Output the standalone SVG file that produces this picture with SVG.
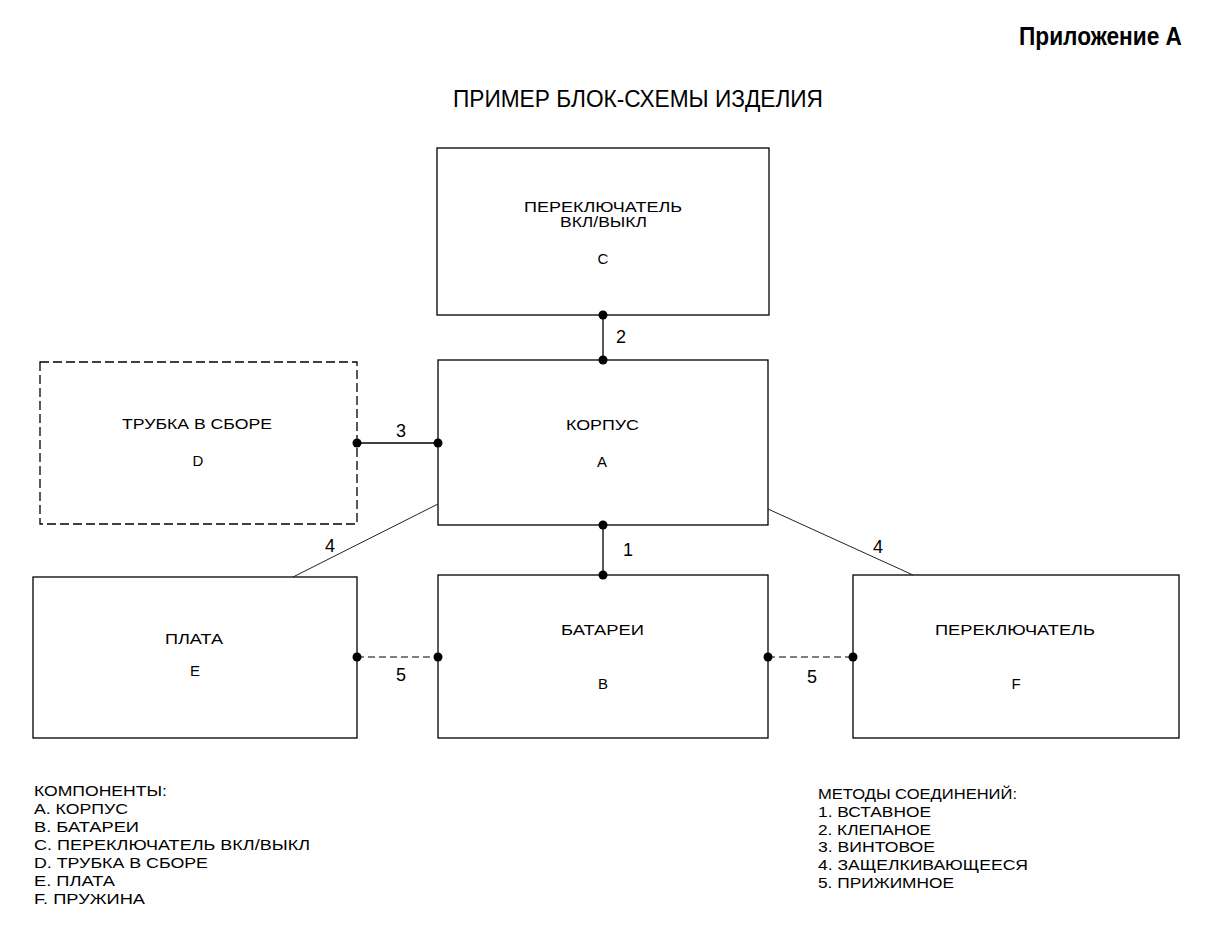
<svg xmlns="http://www.w3.org/2000/svg" width="1213" height="926" viewBox="0 0 1213 926">
<style>
.box{fill:#fff;stroke:#000;stroke-width:1.3}
.dash{stroke-dasharray:9 4}
.t{font-family:"Liberation Sans",Arial,sans-serif;font-size:14px;fill:#000}
.c{text-anchor:middle;font-size:15px}
.n{font-family:"Liberation Sans",Arial,sans-serif;font-size:18px;fill:#000;text-anchor:middle}
.ln{stroke:#000;stroke-width:1.3;fill:none}
.thin{stroke:#222;stroke-width:1;fill:none}
.dl{stroke:#000;stroke-width:1.2;stroke-dasharray:7 4;fill:none}
.dot{fill:#000}
</style>
<rect width="1213" height="926" fill="#fff"/>
<text x="1182" y="45" font-family="'Liberation Sans',Arial,sans-serif" font-size="25" font-weight="bold" text-anchor="end" textLength="163" lengthAdjust="spacingAndGlyphs">Приложение А</text>
<text x="453" y="107" font-family="'Liberation Sans',Arial,sans-serif" font-size="23" textLength="370" lengthAdjust="spacingAndGlyphs">ПРИМЕР БЛОК-СХЕМЫ ИЗДЕЛИЯ</text>

<g id="node-C">
<rect class="box" x="437" y="148" width="332" height="167"/>
<text class="t" x="524" y="212" textLength="158" lengthAdjust="spacingAndGlyphs">ПЕРЕКЛЮЧАТЕЛЬ</text>
<text class="t" x="560" y="227" textLength="87" lengthAdjust="spacingAndGlyphs">ВКЛ/ВЫКЛ</text>
<text class="t c" x="603" y="264">С</text>
</g>
<g id="node-A">
<rect class="box" x="438" y="360" width="330" height="165"/>
<text class="t" x="566" y="430" textLength="73" lengthAdjust="spacingAndGlyphs">КОРПУС</text>
<text class="t c" x="602" y="467">А</text>
</g>
<g id="node-D">
<rect class="box dash" x="40" y="362" width="317" height="162"/>
<text class="t" x="122" y="429" textLength="150" lengthAdjust="spacingAndGlyphs">ТРУБКА В СБОРЕ</text>
<text class="t c" x="198" y="466">D</text>
</g>
<g id="node-E">
<rect class="box" x="33" y="577" width="324" height="161"/>
<text class="t" x="165" y="644" textLength="58" lengthAdjust="spacingAndGlyphs">ПЛАТА</text>
<text class="t c" x="195" y="676">E</text>
</g>
<g id="node-B">
<rect class="box" x="438" y="575" width="330" height="163"/>
<text class="t" x="561" y="635" textLength="83" lengthAdjust="spacingAndGlyphs">БАТАРЕИ</text>
<text class="t c" x="603" y="689">В</text>
</g>
<g id="node-F">
<rect class="box" x="853" y="575" width="326" height="163"/>
<text class="t" x="935" y="635" textLength="160" lengthAdjust="spacingAndGlyphs">ПЕРЕКЛЮЧАТЕЛЬ</text>
<text class="t c" x="1016" y="689">F</text>
</g>

<g id="connectors">
<line class="ln" x1="603" y1="315" x2="603" y2="360"/>
<line class="ln" x1="357" y1="443" x2="438" y2="443"/>
<line class="ln" x1="603" y1="525" x2="603" y2="575"/>
<line class="thin" x1="438" y1="504" x2="293" y2="577"/>
<line class="thin" x1="768" y1="509" x2="913" y2="575"/>
<line class="dl" x1="357" y1="657" x2="438" y2="657"/>
<line class="dl" x1="768" y1="657" x2="853" y2="657"/>
<circle class="dot" cx="603" cy="315" r="4.5"/>
<circle class="dot" cx="603" cy="360" r="4.5"/>
<circle class="dot" cx="357" cy="443" r="4.5"/>
<circle class="dot" cx="438" cy="443" r="4.5"/>
<circle class="dot" cx="603" cy="525" r="4.5"/>
<circle class="dot" cx="603" cy="575" r="4.5"/>
<circle class="dot" cx="357" cy="657" r="4.5"/>
<circle class="dot" cx="438" cy="657" r="4.5"/>
<circle class="dot" cx="768" cy="657" r="4.5"/>
<circle class="dot" cx="853" cy="657" r="4.5"/>
<text class="n" x="621" y="343">2</text>
<text class="n" x="401" y="437">3</text>
<text class="n" x="628" y="556">1</text>
<text class="n" x="330" y="552">4</text>
<text class="n" x="878" y="553">4</text>
<text class="n" x="401" y="681">5</text>
<text class="n" x="812" y="683">5</text>
</g>

<g id="legend-components">
<text class="t" x="34" y="796" textLength="133" lengthAdjust="spacingAndGlyphs">КОМПОНЕНТЫ:</text>
<text class="t" x="34" y="814" textLength="94" lengthAdjust="spacingAndGlyphs">А. КОРПУС</text>
<text class="t" x="34" y="832" textLength="105" lengthAdjust="spacingAndGlyphs">В. БАТАРЕИ</text>
<text class="t" x="34" y="850" textLength="276" lengthAdjust="spacingAndGlyphs">С. ПЕРЕКЛЮЧАТЕЛЬ ВКЛ/ВЫКЛ</text>
<text class="t" x="34" y="868" textLength="174" lengthAdjust="spacingAndGlyphs">D. ТРУБКА В СБОРЕ</text>
<text class="t" x="34" y="886" textLength="81" lengthAdjust="spacingAndGlyphs">E. ПЛАТА</text>
<text class="t" x="34" y="904" textLength="111" lengthAdjust="spacingAndGlyphs">F. ПРУЖИНА</text>
</g>
<g id="legend-methods">
<text class="t" x="818" y="799" textLength="199" lengthAdjust="spacingAndGlyphs">МЕТОДЫ СОЕДИНЕНИЙ:</text>
<text class="t" x="818" y="817" textLength="113" lengthAdjust="spacingAndGlyphs">1. ВСТАВНОЕ</text>
<text class="t" x="818" y="835" textLength="113" lengthAdjust="spacingAndGlyphs">2. КЛЕПАНОЕ</text>
<text class="t" x="818" y="852" textLength="117" lengthAdjust="spacingAndGlyphs">3. ВИНТОВОЕ</text>
<text class="t" x="818" y="870" textLength="210" lengthAdjust="spacingAndGlyphs">4. ЗАЩЕЛКИВАЮЩЕЕСЯ</text>
<text class="t" x="818" y="888" textLength="136" lengthAdjust="spacingAndGlyphs">5. ПРИЖИМНОЕ</text>
</g>
</svg>
